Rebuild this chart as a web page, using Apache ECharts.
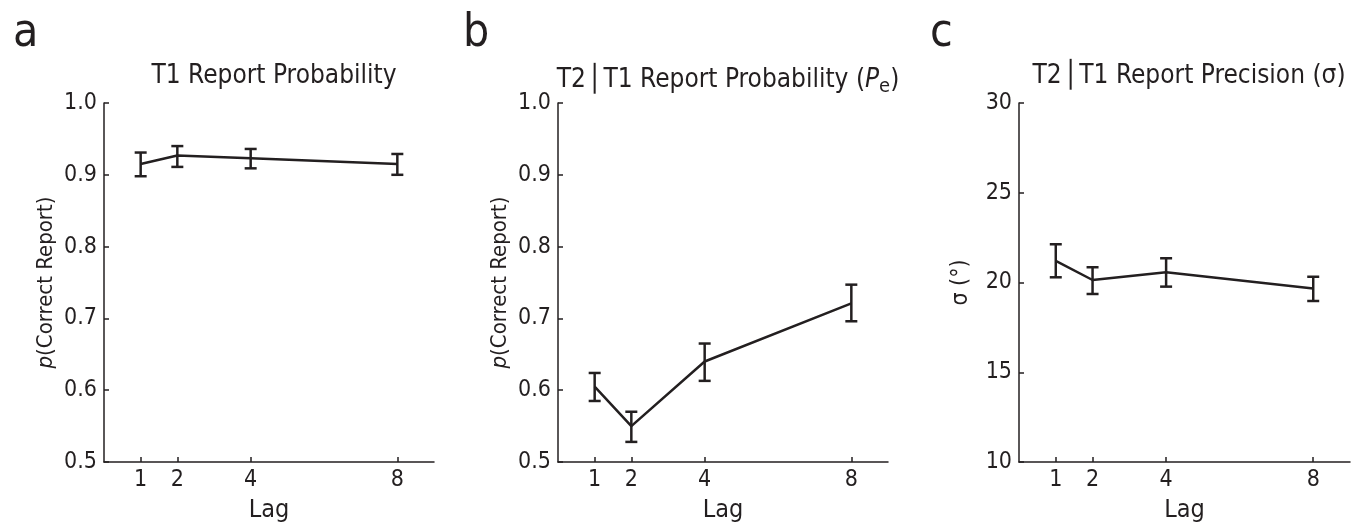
<!DOCTYPE html>
<html>
<head>
<meta charset="utf-8">
<script src="https://cdn.jsdelivr.net/npm/echarts@6/dist/echarts.min.js"></script>
<style>
html,body{margin:0;padding:0;background:#fff;}
#chart{width:1359px;height:523px;}
</style>
</head>
<body>
<div id="chart"></div>
<script>
// ---- data ----
const lags = [1, 2, 4, 8];
const xTicks = [1, 2, 4, 8];

const t1Mean = [0.915, 0.927, 0.923, 0.915];
const t1Low  = [0.898, 0.911, 0.909, 0.900];
const t1High = [0.931, 0.940, 0.936, 0.929];

const peMean = [0.605, 0.550, 0.640, 0.721];
const peLow  = [0.585, 0.528, 0.613, 0.696];
const peHigh = [0.624, 0.570, 0.665, 0.747];

const sdMean = [21.2, 20.14, 20.57, 19.66];
const sdLow  = [20.29, 19.36, 19.77, 18.97];
const sdHigh = [22.13, 20.85, 21.35, 20.32];

const probTicks = [0.5, 0.6, 0.7, 0.8, 0.9, 1.0];
const sigmaTicks = [10, 15, 20, 25, 30];

// ---- style ----
const INK = '#231f20';
const FONT = '"Liberation Sans Narrow", "DejaVu Sans Condensed", "Roboto", sans-serif';

const chart = echarts.init(document.getElementById('chart'));

const grids = [
  {left: 104, width: 330, top: 103, height: 359, outerBoundsMode: 'none', containLabel: false},
  {left: 558, width: 330, top: 103, height: 359, outerBoundsMode: 'none', containLabel: false},
  {left: 1019, width: 331, top: 103, height: 359, outerBoundsMode: 'none', containLabel: false}
];

function xAxisFor(i) {
  return {
    type: 'value', gridIndex: i, min: 0, max: 9,
    name: 'Lag', nameLocation: 'middle', nameGap: 36,
    nameTextStyle: {color: INK, fontFamily: FONT, fontSize: 25},
    axisLine: {show: true, lineStyle: {color: INK, width: 1.5}},
    axisTick: {show: true, inside: true, length: 5, customValues: xTicks, lineStyle: {color: INK, width: 1.5}},
    axisLabel: {show: true, customValues: xTicks, margin: 7, color: INK, fontFamily: FONT, fontSize: 23},
    splitLine: {show: false}
  };
}

function yAxisFor(i, min, max, interval, ticks, nameCfg, fmt) {
  return {
    type: 'value', gridIndex: i, min: min, max: max, interval: interval,
    name: nameCfg.text, nameLocation: 'middle', nameGap: nameCfg.gap, nameRotate: 90,
    nameTextStyle: nameCfg.style,
    axisLine: {show: true, lineStyle: {color: INK, width: 1.5}},
    axisTick: {show: true, inside: true, length: 5, customValues: ticks, lineStyle: {color: INK, width: 1.5}},
    axisLabel: {show: true, customValues: ticks, margin: 7, color: INK, fontFamily: FONT, fontSize: 23, formatter: fmt},
    splitLine: {show: false}
  };
}

const probName = {
  text: '{i|p}{n|(Correct Report)}', gap: 47,
  style: {color: INK, fontFamily: FONT, fontSize: 22,
    rich: {i: {fontStyle: 'italic', fontFamily: FONT, fontSize: 22, color: INK},
           n: {fontFamily: FONT, fontSize: 22, color: INK}}}
};
const sigmaName = {
  text: 'σ (°)', gap: 46,
  style: {color: INK, fontFamily: FONT, fontSize: 23}
};

function pairs(xs, ys) { return xs.map((x, k) => [x, ys[k]]); }
function triples(xs, lo, hi) { return xs.map((x, k) => [x, lo[k], hi[k]]); }

function errRender(params, api) {
  const x = api.value(0);
  const p1 = api.coord([x, api.value(1)]);
  const p2 = api.coord([x, api.value(2)]);
  const hw = 6;
  const st = {stroke: INK, lineWidth: 2.5};
  return {
    type: 'group',
    children: [
      {type: 'line', shape: {x1: p1[0], y1: p1[1], x2: p2[0], y2: p2[1]}, style: st},
      {type: 'line', shape: {x1: p1[0] - hw, y1: p1[1], x2: p1[0] + hw, y2: p1[1]}, style: st},
      {type: 'line', shape: {x1: p2[0] - hw, y1: p2[1], x2: p2[0] + hw, y2: p2[1]}, style: st}
    ]
  };
}

function lineSeries(i, mean) {
  return {
    type: 'line', xAxisIndex: i, yAxisIndex: i, data: pairs(lags, mean),
    symbol: 'none', lineStyle: {color: INK, width: 2.5}, itemStyle: {color: INK},
    animation: false, silent: true
  };
}
function errSeries(i, lo, hi) {
  return {
    type: 'custom', xAxisIndex: i, yAxisIndex: i, data: triples(lags, lo, hi),
    renderItem: errRender, animation: false, silent: true,
    encode: {x: 0, y: [1, 2]}
  };
}

const titleStyle = {color: INK, fontFamily: FONT, fontSize: 26, fontWeight: 'normal'};
const letterStyle = {color: INK, fontFamily: FONT, fontSize: 46, fontWeight: 'normal'};

const option = {
  backgroundColor: '#fff',
  animation: false,
  title: [
    {text: 'a', left: 8, top: 6, textStyle: letterStyle},
    {text: 'b', left: 458, top: 6, textStyle: letterStyle},
    {text: 'c', left: 925, top: 6, textStyle: letterStyle},
    {text: 'T1 Report Probability', left: 269, top: 58, textAlign: 'center', textStyle: titleStyle},
    {text: '{n|T2}{bar|│}{n|T1 Report Probability (}{i|P}{sub|e}{n|)}', left: 723, top: 58, textAlign: 'center',
     textStyle: Object.assign({}, titleStyle, {rich: {
       n: {fontFamily: FONT, fontSize: 26, color: INK},
       bar: {fontFamily: 'DejaVu Sans', fontSize: 26, color: INK, fontWeight: 'bold', padding: [0, 1, 0, 1]},
       i: {fontFamily: FONT, fontSize: 26, color: INK, fontStyle: 'italic'},
       sub: {fontFamily: FONT, fontSize: 20, color: INK, padding: [14, 0, 0, 0]}
     }})},
    {text: '{n|T2}{bar|│}{n|T1 Report Precision (σ)}', left: 1184, top: 58, textAlign: 'center',
     textStyle: Object.assign({}, titleStyle, {rich: {
       n: {fontFamily: FONT, fontSize: 26, color: INK},
       bar: {fontFamily: 'DejaVu Sans', fontSize: 26, color: INK, fontWeight: 'bold', padding: [0, 1, 0, 1]}
     }})}
  ],
  grid: grids,
  xAxis: [xAxisFor(0), xAxisFor(1), xAxisFor(2)],
  yAxis: [
    yAxisFor(0, 0.5, 1.0, 0.1, probTicks, probName, v => v.toFixed(1)),
    yAxisFor(1, 0.5, 1.0, 0.1, probTicks, probName, v => v.toFixed(1)),
    yAxisFor(2, 10, 30, 5, sigmaTicks, sigmaName, v => String(v))
  ],
  series: [
    lineSeries(0, t1Mean), errSeries(0, t1Low, t1High),
    lineSeries(1, peMean), errSeries(1, peLow, peHigh),
    lineSeries(2, sdMean), errSeries(2, sdLow, sdHigh)
  ]
};
chart.setOption(option);
</script>
</body>
</html>
